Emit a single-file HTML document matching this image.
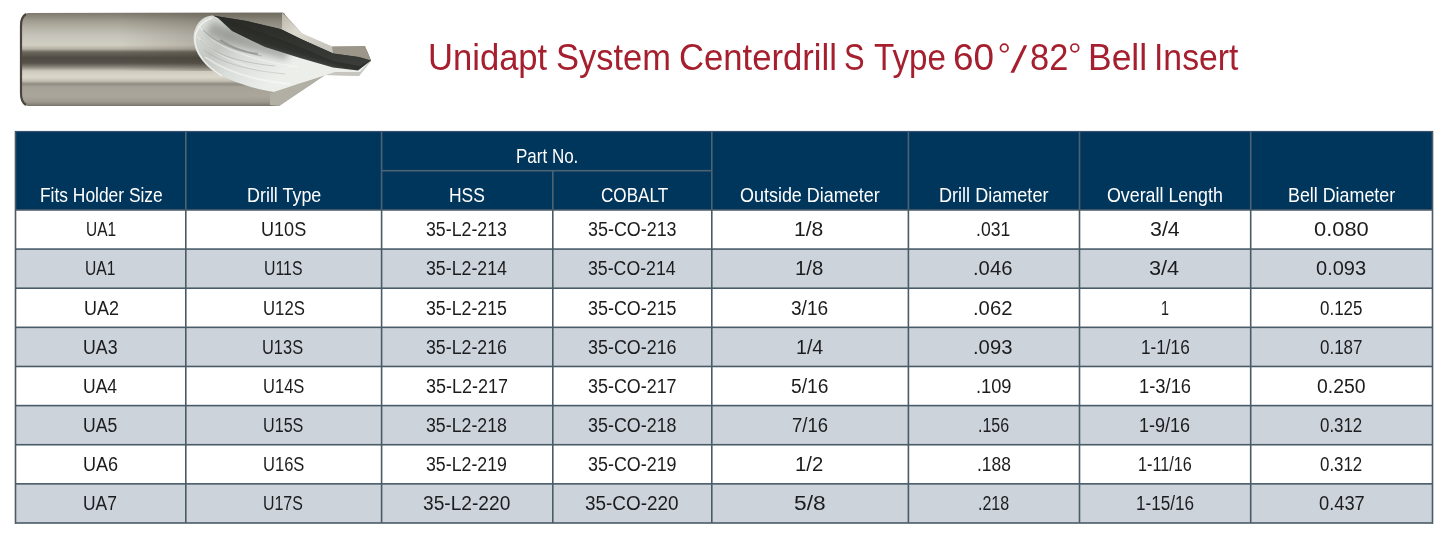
<!DOCTYPE html>
<html><head><meta charset="utf-8"><style>
html,body{margin:0;padding:0;background:#fff;overflow:hidden;}
body{width:1445px;height:537px;position:relative;overflow:hidden;font-family:"Liberation Sans",sans-serif;}
.b{position:absolute;}
.t{position:absolute;white-space:nowrap;transform-origin:0 50%;}
svg{position:absolute;left:0;top:0;}
</style></head><body>
<svg width="400" height="125" viewBox="0 0 400 125">
<defs>
<linearGradient id="sh" x1="0" y1="13" x2="0" y2="106" gradientUnits="userSpaceOnUse">
<stop offset="0.000" stop-color="#7e796e"/>
<stop offset="0.043" stop-color="#8f8a7e"/>
<stop offset="0.086" stop-color="#a29d91"/>
<stop offset="0.161" stop-color="#b5b1a5"/>
<stop offset="0.247" stop-color="#c6c5bc"/>
<stop offset="0.344" stop-color="#d2cec2"/>
<stop offset="0.387" stop-color="#b5b0a4"/>
<stop offset="0.419" stop-color="#6d685e"/>
<stop offset="0.484" stop-color="#4f4a41"/>
<stop offset="0.538" stop-color="#56514a"/>
<stop offset="0.581" stop-color="#8a867b"/>
<stop offset="0.624" stop-color="#cdc9bd"/>
<stop offset="0.688" stop-color="#dbd7cb"/>
<stop offset="0.731" stop-color="#c3bfb3"/>
<stop offset="0.763" stop-color="#8f8b80"/>
<stop offset="0.796" stop-color="#a6a298"/>
<stop offset="0.892" stop-color="#aaa69c"/>
<stop offset="0.957" stop-color="#9d998f"/>
<stop offset="1.000" stop-color="#77736a"/>
</linearGradient>
<linearGradient id="ov" x1="120" y1="0" x2="210" y2="0" gradientUnits="userSpaceOnUse">
<stop offset="0" stop-color="#3e392f" stop-opacity="0"/>
<stop offset="1" stop-color="#3e392f" stop-opacity="0.22"/>
</linearGradient>
<linearGradient id="face" x1="196" y1="22" x2="262" y2="92" gradientUnits="userSpaceOnUse">
<stop offset="0" stop-color="#dde0db"/>
<stop offset="0.35" stop-color="#c2c6c0"/>
<stop offset="0.6" stop-color="#dadeda"/>
<stop offset="1" stop-color="#eceeea"/>
</linearGradient>
<filter id="bl" x="-50%" y="-50%" width="200%" height="200%"><feGaussianBlur stdDeviation="3"/></filter>
<linearGradient id="cone" x1="285" y1="14" x2="320" y2="50" gradientUnits="userSpaceOnUse">
<stop offset="0" stop-color="#bdb8ac"/>
<stop offset="0.4" stop-color="#dcdad0"/>
<stop offset="1" stop-color="#c9c7bd"/>
</linearGradient>
<linearGradient id="band" x1="0" y1="20" x2="0" y2="65" gradientUnits="userSpaceOnUse">
<stop offset="0" stop-color="#2a2b27"/>
<stop offset="1" stop-color="#3a3d39"/>
</linearGradient>
<linearGradient id="band2" x1="290" y1="34" x2="282" y2="62" gradientUnits="userSpaceOnUse">
<stop offset="0" stop-color="#252622"/>
<stop offset="0.55" stop-color="#30322e"/>
<stop offset="1" stop-color="#5f645e"/>
</linearGradient>
</defs>
<!-- silhouette / shank -->
<path d="M26,13 L283,12.5 L302,33.5 L332,46.5 L365,46 L371,60.5 L359,76 L325,75 L279,106 L28,106 Q20.5,105 20,94 L20,25 Q20.5,13.5 28,13 Z" fill="url(#sh)"/>
<rect x="120" y="13" width="165" height="58" fill="url(#ov)"/>
<path d="M26,14 Q21,17 21,26 L21,93 Q21,102 26,105" fill="none" stroke="#4a463e" stroke-width="2.2"/>
<!-- cone top -->
<path d="M282,12.5 L302,33.5 L332,46.5 L333.3,53.5 L302,39.5 L280.6,29 L282,28 Z" fill="url(#cone)"/>
<!-- pilot top -->
<path d="M332,46.5 L365,46 L371,60.5 L358.8,57 L333.3,53.5 Z" fill="#9b958a"/>
<!-- cone bottom -->
<path d="M270,93.5 L325.4,74.9 L279,106 L270,105 Z" fill="#b2afa5"/>
<!-- pilot lower -->
<path d="M325.4,74.9 L333.3,69.3 L358.6,70.9 L371,61 L359,76 Z" fill="#c6c6be"/>
<!-- face -->
<path d="M213,15.5 C205,16 199,20 195.5,28 C192.5,35 193,42 196,50 C201,62 212,72 224.7,77 C235,82 250,88 273.9,92 L325.4,74.9 L335,72 L360,72 L371,60.5 L358.8,57 L333.3,53.5 L302,39.5 L280.6,29 L247,21 Z" fill="url(#face)"/>
<path d="M199,26 C212,44 238,58 298,67" stroke="#ffffff" stroke-opacity="0.35" stroke-width="1.5" fill="none"/>
<path d="M197,36 C210,52 236,66 280,74" stroke="#ffffff" stroke-opacity="0.3" stroke-width="1.2" fill="none"/>
<path d="M205,57 C225,71 250,80 290,84" stroke="#ffffff" stroke-opacity="0.45" stroke-width="2" fill="none"/>
<path d="M212,18 C200,22 194,32 195,42 C197,55 206,66 222,76" stroke="#f4f6f2" stroke-opacity="0.8" stroke-width="1.5" fill="none"/>
<path d="M212,22 C230,28 255,38 290,52 L286,60 C255,52 228,44 206,34 Z" fill="#7d817b" fill-opacity="0.55" filter="url(#bl)"/>
<path d="M203,30 C214,42 232,50 262,56" stroke="#6f746e" stroke-opacity="0.35" stroke-width="1.2" fill="none"/>
<path d="M200,40 C214,54 236,62 275,66" stroke="#7b807a" stroke-opacity="0.3" stroke-width="1" fill="none"/>
<path d="M204,50 C220,62 245,70 285,74" stroke="#8a8f89" stroke-opacity="0.3" stroke-width="1" fill="none"/>
<path d="M220,40 C232,48 245,52 258,54" stroke="#4f544e" stroke-opacity="0.35" stroke-width="2" fill="none"/>
<!-- dark helix band (soft outer) -->
<path d="M213,15.5 L247,21 L280.6,29 L302,39.5 L333.3,53.5 L358.8,57 L371,60.5 L358,70.5 L333,67.5 L300,58 L265,47 L232,31 L218,18 Z" fill="url(#band2)"/>
<!-- dark core -->
<path d="M213,15.5 L247,21 L280.6,29 L302,39.5 L333.3,53.5 L358.8,57 L371,60.5 L360,66 L333,61 L305,49 L285,41 L252,29 L222,19 Z" fill="url(#band)"/>
</svg>

<div class="t" id="ti0" style="left:428.26px;top:35.98px;line-height:44px;font-size:36.1px;color:#a51f2e;transform:scaleX(0.9587)">Unidapt</div><div class="t" id="ti1" style="left:556.22px;top:35.98px;line-height:44px;font-size:36.1px;color:#a51f2e;transform:scaleX(0.9552)">System</div><div class="t" id="ti2" style="left:678.74px;top:35.98px;line-height:44px;font-size:36.1px;color:#a51f2e;transform:scaleX(0.9603)">Centerdrill</div><div class="t" id="ti3" style="left:843.94px;top:35.98px;line-height:44px;font-size:36.1px;color:#a51f2e;transform:scaleX(0.8539)">S</div><div class="t" id="ti4" style="left:873.73px;top:35.98px;line-height:44px;font-size:36.1px;color:#a51f2e;transform:scaleX(0.9185)">Type</div><div class="t" id="ti5" style="left:953.14px;top:35.98px;line-height:44px;font-size:36.1px;color:#a51f2e;transform:scaleX(1.0220)">60</div><div class="t" id="ti7" style="left:1029.72px;top:35.98px;line-height:44px;font-size:36.1px;color:#a51f2e;transform:scaleX(0.9535)">82</div><div class="t" id="ti8" style="left:1088.24px;top:35.98px;line-height:44px;font-size:36.1px;color:#a51f2e;transform:scaleX(0.9820)">Bell</div><div class="t" id="ti9" style="left:1153.91px;top:35.98px;line-height:44px;font-size:36.1px;color:#a51f2e;transform:scaleX(0.9350)">Insert</div><svg width="1445" height="537" style="position:absolute;left:0;top:0"><polygon points="1023.9,45.2 1027.2,45.2 1014.1,72.8 1010.4,72.8" fill="#a51f2e"/><circle cx="1004.25" cy="48" r="3.8" fill="none" stroke="#a51f2e" stroke-width="1.7"/><circle cx="1074.8" cy="47.9" r="3.9" fill="none" stroke="#a51f2e" stroke-width="1.7"/></svg>
<div class="b" style="left:15px;top:131px;width:1418px;height:79.4px;background:#01365c"></div><div class="b" style="left:15px;top:209.95px;width:1418px;height:39.13px;background:#ffffff"></div><div class="b" style="left:15px;top:249.08px;width:1418px;height:39.13px;background:#ccd3da"></div><div class="b" style="left:15px;top:288.21px;width:1418px;height:39.13px;background:#ffffff"></div><div class="b" style="left:15px;top:327.34px;width:1418px;height:39.13px;background:#ccd3da"></div><div class="b" style="left:15px;top:366.47px;width:1418px;height:39.13px;background:#ffffff"></div><div class="b" style="left:15px;top:405.60px;width:1418px;height:39.13px;background:#ccd3da"></div><div class="b" style="left:15px;top:444.73px;width:1418px;height:39.13px;background:#ffffff"></div><div class="b" style="left:15px;top:483.86px;width:1418px;height:39.13px;background:#ccd3da"></div><svg width="1445" height="537" style="position:absolute;left:0;top:0"><rect x="185.00" y="131.00" width="1.6" height="78.95" fill="#4f6272"/><rect x="380.80" y="131.00" width="1.6" height="78.95" fill="#4f6272"/><rect x="552.00" y="170.70" width="1.6" height="39.25" fill="#4f6272"/><rect x="711.00" y="131.00" width="1.6" height="78.95" fill="#4f6272"/><rect x="907.60" y="131.00" width="1.6" height="78.95" fill="#4f6272"/><rect x="1078.70" y="131.00" width="1.6" height="78.95" fill="#4f6272"/><rect x="1249.90" y="131.00" width="1.6" height="78.95" fill="#4f6272"/><rect x="381.60" y="169.90" width="330.20" height="1.6" fill="#4f6272"/><rect x="15.00" y="209.15" width="1418.00" height="1.6" fill="#4a5b68"/><rect x="15.00" y="248.28" width="1418.00" height="1.6" fill="#4a5b68"/><rect x="15.00" y="287.41" width="1418.00" height="1.6" fill="#4a5b68"/><rect x="15.00" y="326.54" width="1418.00" height="1.6" fill="#4a5b68"/><rect x="15.00" y="365.67" width="1418.00" height="1.6" fill="#4a5b68"/><rect x="15.00" y="404.80" width="1418.00" height="1.6" fill="#4a5b68"/><rect x="15.00" y="443.93" width="1418.00" height="1.6" fill="#4a5b68"/><rect x="15.00" y="483.06" width="1418.00" height="1.6" fill="#4a5b68"/><rect x="185.00" y="209.95" width="1.6" height="313.04" fill="#4a5b68"/><rect x="380.80" y="209.95" width="1.6" height="313.04" fill="#4a5b68"/><rect x="552.00" y="209.95" width="1.6" height="313.04" fill="#4a5b68"/><rect x="711.00" y="209.95" width="1.6" height="313.04" fill="#4a5b68"/><rect x="907.60" y="209.95" width="1.6" height="313.04" fill="#4a5b68"/><rect x="1078.70" y="209.95" width="1.6" height="313.04" fill="#4a5b68"/><rect x="1249.90" y="209.95" width="1.6" height="313.04" fill="#4a5b68"/><rect x="14.70" y="131.00" width="1.6" height="392.79" fill="#4a5b68"/><rect x="1431.70" y="131.00" width="1.6" height="392.79" fill="#4a5b68"/><rect x="15.00" y="522.19" width="1418.00" height="1.6" fill="#4a5b68"/><rect x="15.00" y="130.90" width="1418.00" height="1.2" fill="#3b5570"/></svg><div class="t" id="h0" style="left:39.76px;top:180.16px;line-height:30px;font-size:20.3px;color:#ffffff;transform:scaleX(0.8575)">Fits Holder Size</div><div class="t" id="h1" style="left:246.59px;top:180.16px;line-height:30px;font-size:20.3px;color:#ffffff;transform:scaleX(0.8831)">Drill Type</div><div class="t" id="h2" style="left:449.47px;top:180.16px;line-height:30px;font-size:20.3px;color:#ffffff;transform:scaleX(0.8609)">HSS</div><div class="t" id="h3" style="left:600.90px;top:180.16px;line-height:30px;font-size:20.3px;color:#ffffff;transform:scaleX(0.8437)">COBALT</div><div class="t" id="h4" style="left:739.85px;top:180.16px;line-height:30px;font-size:20.3px;color:#ffffff;transform:scaleX(0.8847)">Outside Diameter</div><div class="t" id="h5" style="left:939.25px;top:180.16px;line-height:30px;font-size:20.3px;color:#ffffff;transform:scaleX(0.8911)">Drill Diameter</div><div class="t" id="h6" style="left:1106.95px;top:180.16px;line-height:30px;font-size:20.3px;color:#ffffff;transform:scaleX(0.8785)">Overall Length</div><div class="t" id="h7" style="left:1287.82px;top:180.16px;line-height:30px;font-size:20.3px;color:#ffffff;transform:scaleX(0.8803)">Bell Diameter</div><div class="t" id="h8" style="left:515.63px;top:140.76px;line-height:30px;font-size:20.3px;color:#ffffff;transform:scaleX(0.8377)">Part No.</div><div class="t" id="c0_0" style="left:85.89px;top:214.25px;line-height:30px;font-size:19.9px;color:#1c1c1e;transform:scaleX(0.7755)">UA1</div><div class="t" id="c0_1" style="left:261.15px;top:214.25px;line-height:30px;font-size:19.9px;color:#1c1c1e;transform:scaleX(0.9090)">U10S</div><div class="t" id="c0_2" style="left:426.34px;top:214.25px;line-height:30px;font-size:19.9px;color:#1c1c1e;transform:scaleX(0.8923)">35-L2-213</div><div class="t" id="c0_3" style="left:587.94px;top:214.25px;line-height:30px;font-size:19.9px;color:#1c1c1e;transform:scaleX(0.9001)">35-CO-213</div><div class="t" id="c0_4" style="left:794.37px;top:214.25px;line-height:30px;font-size:19.9px;color:#1c1c1e;transform:scaleX(1.0619)">1/8</div><div class="t" id="c0_5" style="left:976.38px;top:214.25px;line-height:30px;font-size:19.9px;color:#1c1c1e;transform:scaleX(0.8822)">.031</div><div class="t" id="c0_6" style="left:1149.88px;top:214.25px;line-height:30px;font-size:19.9px;color:#1c1c1e;transform:scaleX(1.0737)">3/4</div><div class="t" id="c0_7" style="left:1313.92px;top:214.25px;line-height:30px;font-size:19.9px;color:#1c1c1e;transform:scaleX(1.1003)">0.080</div><div class="t" id="c1_0" style="left:85.05px;top:253.38px;line-height:30px;font-size:19.9px;color:#1c1c1e;transform:scaleX(0.7869)">UA1</div><div class="t" id="c1_1" style="left:264.35px;top:253.38px;line-height:30px;font-size:19.9px;color:#1c1c1e;transform:scaleX(0.7964)">U11S</div><div class="t" id="c1_2" style="left:426.31px;top:253.38px;line-height:30px;font-size:19.9px;color:#1c1c1e;transform:scaleX(0.8923)">35-L2-214</div><div class="t" id="c1_3" style="left:587.95px;top:253.38px;line-height:30px;font-size:19.9px;color:#1c1c1e;transform:scaleX(0.8909)">35-CO-214</div><div class="t" id="c1_4" style="left:795.01px;top:253.38px;line-height:30px;font-size:19.9px;color:#1c1c1e;transform:scaleX(1.0248)">1/8</div><div class="t" id="c1_5" style="left:973.20px;top:253.38px;line-height:30px;font-size:19.9px;color:#1c1c1e;transform:scaleX(1.0176)">.046</div><div class="t" id="c1_6" style="left:1149.45px;top:253.38px;line-height:30px;font-size:19.9px;color:#1c1c1e;transform:scaleX(1.0899)">3/4</div><div class="t" id="c1_7" style="left:1316.40px;top:253.38px;line-height:30px;font-size:19.9px;color:#1c1c1e;transform:scaleX(1.0067)">0.093</div><div class="t" id="c2_0" style="left:83.69px;top:292.51px;line-height:30px;font-size:19.9px;color:#1c1c1e;transform:scaleX(0.9038)">UA2</div><div class="t" id="c2_1" style="left:262.61px;top:292.51px;line-height:30px;font-size:19.9px;color:#1c1c1e;transform:scaleX(0.8411)">U12S</div><div class="t" id="c2_2" style="left:426.34px;top:292.51px;line-height:30px;font-size:19.9px;color:#1c1c1e;transform:scaleX(0.8923)">35-L2-215</div><div class="t" id="c2_3" style="left:587.94px;top:292.51px;line-height:30px;font-size:19.9px;color:#1c1c1e;transform:scaleX(0.9001)">35-CO-215</div><div class="t" id="c2_4" style="left:791.25px;top:292.51px;line-height:30px;font-size:19.9px;color:#1c1c1e;transform:scaleX(0.9604)">3/16</div><div class="t" id="c2_5" style="left:973.21px;top:292.51px;line-height:30px;font-size:19.9px;color:#1c1c1e;transform:scaleX(1.0176)">.062</div><div class="t" id="c2_6" style="left:1160.75px;top:292.51px;line-height:30px;font-size:19.9px;color:#1c1c1e;transform:scaleX(0.7200)">1</div><div class="t" id="c2_7" style="left:1320.28px;top:292.51px;line-height:30px;font-size:19.9px;color:#1c1c1e;transform:scaleX(0.8523)">0.125</div><div class="t" id="c3_0" style="left:83.15px;top:331.64px;line-height:30px;font-size:19.9px;color:#1c1c1e;transform:scaleX(0.8919)">UA3</div><div class="t" id="c3_1" style="left:262.36px;top:331.64px;line-height:30px;font-size:19.9px;color:#1c1c1e;transform:scaleX(0.8261)">U13S</div><div class="t" id="c3_2" style="left:426.34px;top:331.64px;line-height:30px;font-size:19.9px;color:#1c1c1e;transform:scaleX(0.8923)">35-L2-216</div><div class="t" id="c3_3" style="left:587.94px;top:331.64px;line-height:30px;font-size:19.9px;color:#1c1c1e;transform:scaleX(0.9001)">35-CO-216</div><div class="t" id="c3_4" style="left:795.54px;top:331.64px;line-height:30px;font-size:19.9px;color:#1c1c1e;transform:scaleX(0.9864)">1/4</div><div class="t" id="c3_5" style="left:973.20px;top:331.64px;line-height:30px;font-size:19.9px;color:#1c1c1e;transform:scaleX(1.0176)">.093</div><div class="t" id="c3_6" style="left:1140.65px;top:331.64px;line-height:30px;font-size:19.9px;color:#1c1c1e;transform:scaleX(0.8634)">1-1/16</div><div class="t" id="c3_7" style="left:1320.28px;top:331.64px;line-height:30px;font-size:19.9px;color:#1c1c1e;transform:scaleX(0.8523)">0.187</div><div class="t" id="c4_0" style="left:83.42px;top:370.77px;line-height:30px;font-size:19.9px;color:#1c1c1e;transform:scaleX(0.8817)">UA4</div><div class="t" id="c4_1" style="left:263.08px;top:370.77px;line-height:30px;font-size:19.9px;color:#1c1c1e;transform:scaleX(0.8322)">U14S</div><div class="t" id="c4_2" style="left:426.29px;top:370.77px;line-height:30px;font-size:19.9px;color:#1c1c1e;transform:scaleX(0.9036)">35-L2-217</div><div class="t" id="c4_3" style="left:587.94px;top:370.77px;line-height:30px;font-size:19.9px;color:#1c1c1e;transform:scaleX(0.9001)">35-CO-217</div><div class="t" id="c4_4" style="left:790.95px;top:370.77px;line-height:30px;font-size:19.9px;color:#1c1c1e;transform:scaleX(0.9657)">5/16</div><div class="t" id="c4_5" style="left:975.96px;top:370.77px;line-height:30px;font-size:19.9px;color:#1c1c1e;transform:scaleX(0.9176)">.109</div><div class="t" id="c4_6" style="left:1138.75px;top:370.77px;line-height:30px;font-size:19.9px;color:#1c1c1e;transform:scaleX(0.9232)">1-3/16</div><div class="t" id="c4_7" style="left:1316.97px;top:370.77px;line-height:30px;font-size:19.9px;color:#1c1c1e;transform:scaleX(0.9754)">0.250</div><div class="t" id="c5_0" style="left:83.31px;top:409.90px;line-height:30px;font-size:19.9px;color:#1c1c1e;transform:scaleX(0.8847)">UA5</div><div class="t" id="c5_1" style="left:263.08px;top:409.90px;line-height:30px;font-size:19.9px;color:#1c1c1e;transform:scaleX(0.8114)">U15S</div><div class="t" id="c5_2" style="left:426.34px;top:409.90px;line-height:30px;font-size:19.9px;color:#1c1c1e;transform:scaleX(0.8923)">35-L2-218</div><div class="t" id="c5_3" style="left:587.94px;top:409.90px;line-height:30px;font-size:19.9px;color:#1c1c1e;transform:scaleX(0.9001)">35-CO-218</div><div class="t" id="c5_4" style="left:791.61px;top:409.90px;line-height:30px;font-size:19.9px;color:#1c1c1e;transform:scaleX(0.9278)">7/16</div><div class="t" id="c5_5" style="left:977.83px;top:409.90px;line-height:30px;font-size:19.9px;color:#1c1c1e;transform:scaleX(0.8042)">.156</div><div class="t" id="c5_6" style="left:1138.72px;top:409.90px;line-height:30px;font-size:19.9px;color:#1c1c1e;transform:scaleX(0.9058)">1-9/16</div><div class="t" id="c5_7" style="left:1320.28px;top:409.90px;line-height:30px;font-size:19.9px;color:#1c1c1e;transform:scaleX(0.8485)">0.312</div><div class="t" id="c6_0" style="left:83.44px;top:449.03px;line-height:30px;font-size:19.9px;color:#1c1c1e;transform:scaleX(0.9092)">UA6</div><div class="t" id="c6_1" style="left:263.08px;top:449.03px;line-height:30px;font-size:19.9px;color:#1c1c1e;transform:scaleX(0.8322)">U16S</div><div class="t" id="c6_2" style="left:426.34px;top:449.03px;line-height:30px;font-size:19.9px;color:#1c1c1e;transform:scaleX(0.8923)">35-L2-219</div><div class="t" id="c6_3" style="left:587.94px;top:449.03px;line-height:30px;font-size:19.9px;color:#1c1c1e;transform:scaleX(0.9001)">35-CO-219</div><div class="t" id="c6_4" style="left:794.89px;top:449.03px;line-height:30px;font-size:19.9px;color:#1c1c1e;transform:scaleX(1.0220)">1/2</div><div class="t" id="c6_5" style="left:976.72px;top:449.03px;line-height:30px;font-size:19.9px;color:#1c1c1e;transform:scaleX(0.8766)">.188</div><div class="t" id="c6_6" style="left:1138.08px;top:449.03px;line-height:30px;font-size:19.9px;color:#1c1c1e;transform:scaleX(0.8148)">1-11/16</div><div class="t" id="c6_7" style="left:1320.28px;top:449.03px;line-height:30px;font-size:19.9px;color:#1c1c1e;transform:scaleX(0.8485)">0.312</div><div class="t" id="c7_0" style="left:83.33px;top:488.16px;line-height:30px;font-size:19.9px;color:#1c1c1e;transform:scaleX(0.8767)">UA7</div><div class="t" id="c7_1" style="left:263.10px;top:488.16px;line-height:30px;font-size:19.9px;color:#1c1c1e;transform:scaleX(0.8009)">U17S</div><div class="t" id="c7_2" style="left:422.97px;top:488.16px;line-height:30px;font-size:19.9px;color:#1c1c1e;transform:scaleX(0.9631)">35-L2-220</div><div class="t" id="c7_3" style="left:584.68px;top:488.16px;line-height:30px;font-size:19.9px;color:#1c1c1e;transform:scaleX(0.9517)">35-CO-220</div><div class="t" id="c7_4" style="left:793.71px;top:488.16px;line-height:30px;font-size:19.9px;color:#1c1c1e;transform:scaleX(1.1437)">5/8</div><div class="t" id="c7_5" style="left:977.83px;top:488.16px;line-height:30px;font-size:19.9px;color:#1c1c1e;transform:scaleX(0.8042)">.218</div><div class="t" id="c7_6" style="left:1135.86px;top:488.16px;line-height:30px;font-size:19.9px;color:#1c1c1e;transform:scaleX(0.8610)">1-15/16</div><div class="t" id="c7_7" style="left:1318.74px;top:488.16px;line-height:30px;font-size:19.9px;color:#1c1c1e;transform:scaleX(0.9190)">0.437</div>
</body></html>
